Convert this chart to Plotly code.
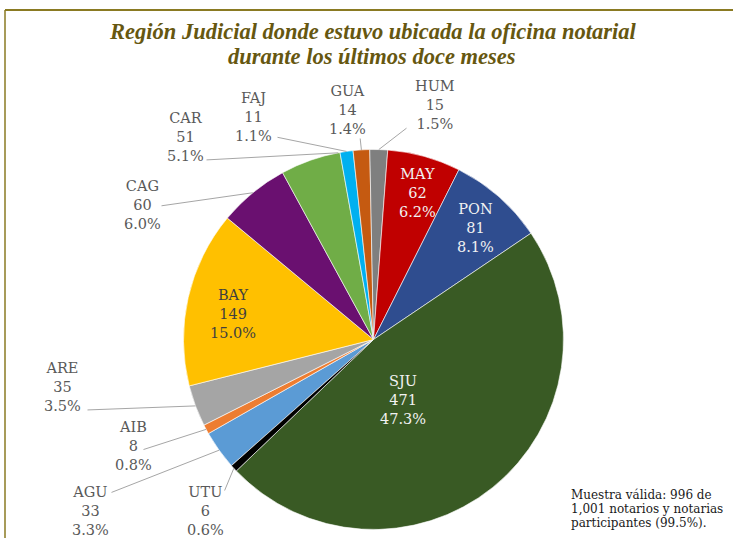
import math
import plotly.graph_objects as go

# ---------------- data ----------------
regions = ["AGU", "AIB", "ARE", "BAY", "CAG", "CAR", "FAJ", "GUA", "HUM", "MAY", "PON", "SJU", "UTU"]
counts = [33, 8, 35, 149, 60, 51, 11, 14, 15, 62, 81, 471, 6]
title_lines = ["Región Judicial donde estuvo ubicada la oficina notarial",
               "durante los últimos doce meses"]
note_lines = ["Muestra válida: 996 de", "1,001 notarios y notarias", "participantes (99.5%)."]

# ---------------- styles ----------------
slice_colors = ["#5B9BD5", "#ED7D31", "#A5A5A5", "#FFC000", "#6A1070", "#70AD47", "#00B0F0",
                "#C55A11", "#7F7F7F", "#C00000", "#2F4D8F", "#395A24", "#000000"]
W, H = 733, 538
CX, CY, R = 373.5, 339.5, 190.0
ROTATION = 228.4
LABEL_FONT = "DejaVu Serif"
GRAY = "#595959"
LINE_COLOR = "#A6A6A6"

# label placement (pixels): centre of text, leader-line start, attach fraction within slice
label_style = {
    "AGU": dict(pos=(90, 511), start=(110, 493), frac=0.5, color=GRAY),
    "AIB": dict(pos=(133, 446), start=(142, 450), frac=0.5, color=GRAY),
    "ARE": dict(pos=(62, 387), start=(86, 410), frac=0.5, color=GRAY),
    "BAY": dict(pos=(233, 314), inside=True, color="#3F3F3F"),
    "CAG": dict(pos=(142, 205), start=(160, 206), frac=0.5, color=GRAY),
    "CAR": dict(pos=(185, 137), start=(205, 160), frac=0.97, color=GRAY),
    "FAJ": dict(pos=(253, 117), start=(276, 137), frac=0.5, color=GRAY),
    "GUA": dict(pos=(347, 110), start=(360, 137), frac=0.5, color=GRAY),
    "HUM": dict(pos=(435, 105), start=(408, 127), frac=0.5, color=GRAY),
    "MAY": dict(pos=(417, 193), inside=True, color="#F2F2F2"),
    "PON": dict(pos=(475, 228), inside=True, color="#F2F2F2"),
    "SJU": dict(pos=(403, 400), inside=True, color="#F2F2F2"),
    "UTU": dict(pos=(205, 511), start=(224, 492), frac=0.5, color=GRAY),
}
title_y = [31, 56]
note_y = [495, 509, 523]


def px(x):
    return x / W


def py(y):
    return 1 - y / H


total = sum(counts)

fig = go.Figure()
fig.add_trace(go.Pie(
    labels=regions, values=counts, sort=False, direction="clockwise", rotation=ROTATION,
    marker=dict(colors=slice_colors, line=dict(color="white", width=0.6)),
    textinfo="none", hoverinfo="label+value+percent", showlegend=False,
    domain=dict(x=[px(CX - R), px(CX + R)], y=[py(CY + R), py(CY - R)]),
))

annotations = []
cum = 0
for lab, v in zip(regions, counts):
    st = label_style[lab]
    text = f"{lab}<br>{v}<br>{v / total * 100:.1f}%"
    annotations.append(dict(
        x=px(st["pos"][0]), y=py(st["pos"][1]), xref="paper", yref="paper",
        text=text, showarrow=False, xanchor="center", yanchor="middle",
        font=dict(family=LABEL_FONT, size=14.5, color=st["color"]),
    ))
    if not st.get("inside"):
        ang = math.radians(ROTATION + (cum + st["frac"] * v) / total * 360)
        tx = CX + R * math.sin(ang)
        ty = CY - R * math.cos(ang)
        annotations.append(dict(
            x=px(tx), y=py(ty), xref="paper", yref="paper", text="",
            showarrow=True, arrowhead=0, arrowwidth=1, arrowcolor=LINE_COLOR,
            ax=st["start"][0] - tx, ay=st["start"][1] - ty,
        ))
    cum += v

# title (two lines)
for line, yy in zip(title_lines, title_y):
    annotations.append(dict(
        x=px(372), y=py(yy), xref="paper", yref="paper", showarrow=False,
        text=line, xanchor="center", yanchor="middle",
        font=dict(family="Liberation Serif", size=22.5, color="#665710", weight="bold", style="italic"),
    ))
# note (three lines)
for line, yy in zip(note_lines, note_y):
    annotations.append(dict(
        x=px(569), y=py(yy), xref="paper", yref="paper", showarrow=False,
        text=line, xanchor="left", yanchor="middle", align="left",
        font=dict(family=LABEL_FONT, size=12, color="#1A1A1A"),
    ))

shapes = [
    dict(type="line", xref="paper", yref="paper", x0=px(5), y0=py(10), x1=px(740), y1=py(10),
         line=dict(color="#8A7A22", width=2)),
    dict(type="line", xref="paper", yref="paper", x0=px(5), y0=py(10), x1=px(5), y1=py(545),
         line=dict(color="#8A7A22", width=1.5)),
]

fig.update_layout(
    width=W, height=H, margin=dict(l=0, r=0, t=0, b=0),
    paper_bgcolor="white", plot_bgcolor="white",
    annotations=annotations, shapes=shapes,
)

fig.write_html("out.html", config={"displayModeBar": False},
               post_script="document.body.style.margin='0';document.body.style.overflow='hidden';")
